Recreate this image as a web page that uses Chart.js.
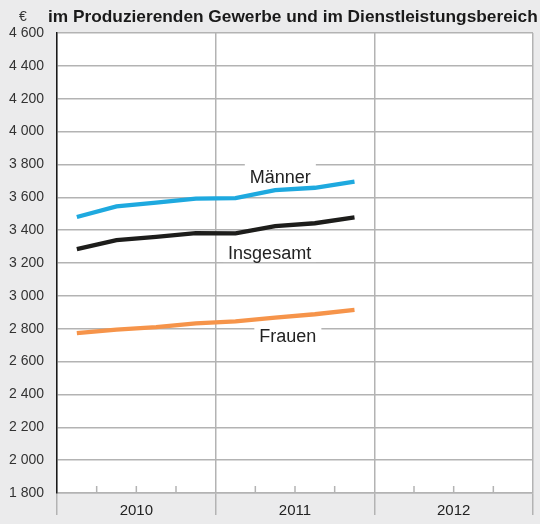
<!DOCTYPE html>
<html>
<head>
<meta charset="utf-8">
<script src="https://cdn.jsdelivr.net/npm/chart.js@4.4.1/dist/chart.umd.min.js"></script>
<style>
  html, body { margin: 0; padding: 0; background: #ebebec; }
  #wrap { width: 540px; height: 524px; }
</style>
</head>
<body>
<div id="wrap"><canvas id="c" width="540" height="524"></canvas></div>
<script>
// Quarterly gross earnings, manufacturing and services (EUR)
const years = ['2010', '2011', '2012'];
const quarterPos = [0.5, 1.5, 2.5, 3.5, 4.5, 5.5, 6.5, 7.5];
const maenner    = [3480, 3545, 3568, 3592, 3595, 3643, 3658, 3695];
const insgesamt  = [3284, 3339, 3359, 3382, 3380, 3425, 3442, 3477];
const frauen     = [2773, 2795, 2810, 2832, 2845, 2868, 2888, 2915];
const yTicks = { min: 1800, max: 4600, step: 200 };

const seriesLabels = [
  { text: 'Männer',    x: 5.63, y: 3687 },
  { text: 'Insgesamt', x: 5.36, y: 3224 },
  { text: 'Frauen',    x: 5.82, y: 2721 }
];

const GRID = '#b3b3b3';
const FONT = '"Liberation Sans", Arial, Helvetica, sans-serif';

function pts(vals) { return vals.map((v, i) => ({ x: quarterPos[i], y: v })); }
function fmt(v) { return String(v).replace(/\B(?=(\d{3})+(?!\d))/g, ' '); }

const decor = {
  id: 'decor',
  beforeDraw(chart) {
    const { ctx, chartArea: a } = chart;
    ctx.save();
    ctx.fillStyle = '#ffffff';
    ctx.fillRect(a.left, a.top, a.right - a.left, a.bottom - a.top);
    ctx.restore();
  },
  beforeDatasetsDraw(chart) {
    const { ctx, chartArea: a, scales: { x, y } } = chart;
    ctx.save();
    // short quarter tick marks on the bottom axis
    ctx.strokeStyle = GRID;
    ctx.lineWidth = 1.5;
    for (let q = 1; q < 12; q++) {
      if (q % 4 === 0) continue;
      const px = x.getPixelForValue(q);
      ctx.beginPath();
      ctx.moveTo(px, a.bottom);
      ctx.lineTo(px, a.bottom - 7);
      ctx.stroke();
    }
    // series names on white patches
    ctx.font = '18px ' + FONT;
    ctx.textAlign = 'center';
    ctx.textBaseline = 'alphabetic';
    seriesLabels.forEach(l => {
      const px = x.getPixelForValue(l.x);
      const py = y.getPixelForValue(l.y);
      const w = ctx.measureText(l.text).width;
      ctx.fillStyle = '#ffffff';
      ctx.fillRect(px - w / 2 - 5, py - 21, w + 10, 24);
      ctx.fillStyle = '#222222';
      ctx.fillText(l.text, px, py);
    });
    ctx.restore();
  },
  afterDraw(chart) {
    const { ctx } = chart;
    ctx.save();
    ctx.textAlign = 'left';
    ctx.textBaseline = 'alphabetic';
    ctx.fillStyle = '#333333';
    ctx.font = '14px ' + FONT;
    ctx.fillText('€', 19, 21);
    ctx.fillStyle = '#1a1a1a';
    ctx.font = 'bold 17.3px ' + FONT;
    ctx.fillText('im Produzierenden Gewerbe und im Dienstleistungsbereich', 48, 22);
    ctx.restore();
  }
};

const lineDs = (label, vals, color) => ({
  label, data: pts(vals), borderColor: color, backgroundColor: color,
  borderWidth: 4.3, pointRadius: 0, tension: 0, fill: false
});

new Chart(document.getElementById('c'), {
  type: 'line',
  data: {
    datasets: [
      lineDs('Männer', maenner, '#1ea9df'),
      lineDs('Insgesamt', insgesamt, '#1d1d1b'),
      lineDs('Frauen', frauen, '#f6944a')
    ]
  },
  options: {
    responsive: false,
    animation: false,
    devicePixelRatio: 1,
    layout: { padding: { top: 33, right: 7, left: 0, bottom: 0 } },
    plugins: { legend: { display: false }, tooltip: { enabled: false } },
    scales: {
      x: {
        type: 'linear', min: 0, max: 12,
        afterFit(s) { s.height = 31; },
        ticks: {
          stepSize: 1, autoSkip: false, maxRotation: 0, padding: -13,
          color: '#222222', font: { family: FONT, size: 15 },
          callback: v => (v % 4 === 2 ? years[(v - 2) / 4] : '')
        },
        grid: {
          lineWidth: 1.5, tickLength: 22,
          color: c => (c.tick && c.tick.value % 4 === 0 ? GRID : 'rgba(0,0,0,0)'),
          tickColor: c => (c.tick && c.tick.value % 4 === 0 ? GRID : 'rgba(0,0,0,0)')
        },
        border: { display: true, color: GRID, width: 1.5 }
      },
      y: {
        min: yTicks.min, max: yTicks.max,
        afterFit(s) { s.width = 57; },
        ticks: {
          stepSize: yTicks.step, padding: 13,
          color: '#333333', font: { family: FONT, size: 14 },
          callback: v => fmt(v)
        },
        grid: { color: GRID, lineWidth: 1.5, drawTicks: false },
        border: { display: true, color: '#1a1a1a', width: 1.5 }
      }
    }
  },
  plugins: [decor]
});
</script>
</body>
</html>
